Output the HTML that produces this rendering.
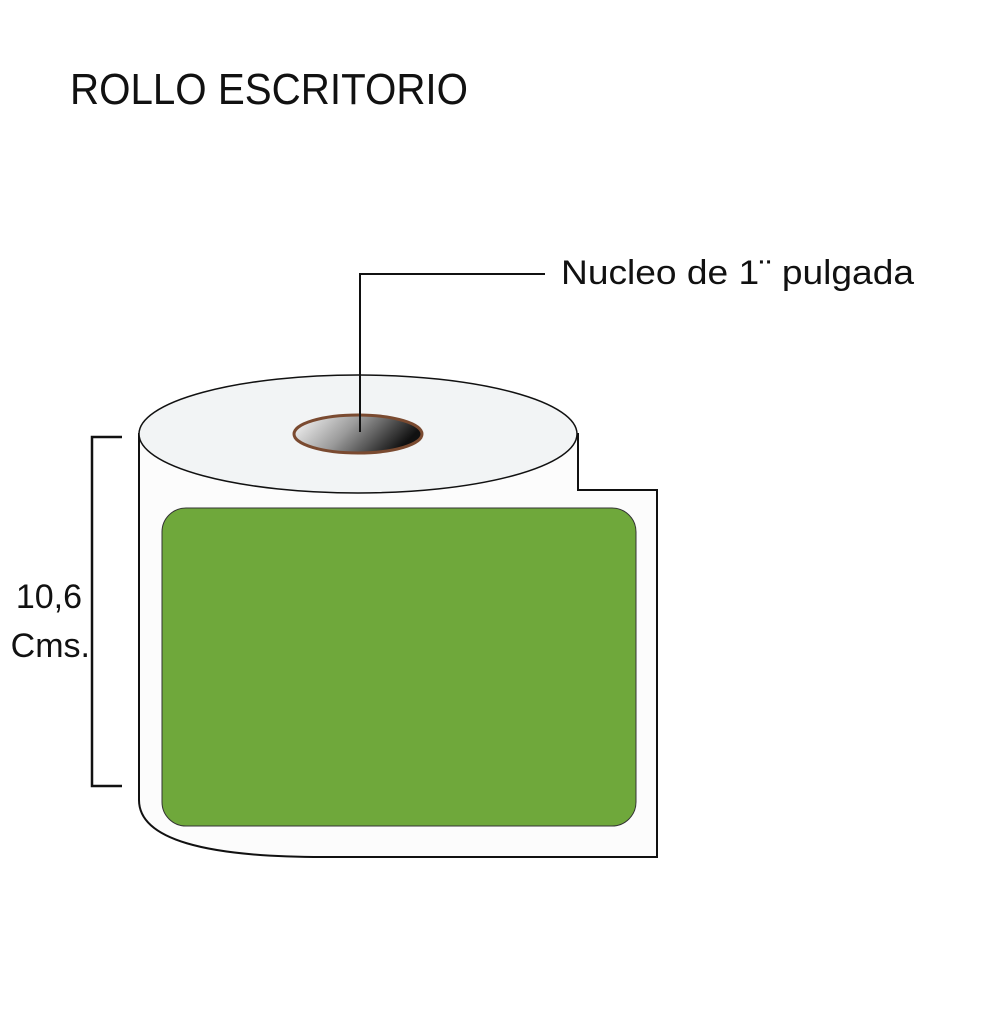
<!DOCTYPE html>
<html><head><style>body{margin:0;background:#fff}</style></head><body>
<svg width="1004" height="1004" viewBox="0 0 1004 1004" xmlns="http://www.w3.org/2000/svg" font-family="Liberation Sans, sans-serif">
<defs><linearGradient id="g" x1="0" y1="0" x2="1" y2="0.3"><stop offset="0" stop-color="#fff"/><stop offset="0.5" stop-color="#999"/><stop offset="1" stop-color="#111"/></linearGradient></defs>
<text x="70" y="104" font-size="44" fill="#111" textLength="398" lengthAdjust="spacingAndGlyphs">ROLLO ESCRITORIO</text>
<path d="M139,434 L139,800 Q139,858 330,857 L657,857 L657,490 L578,490 L578,434 Z" fill="#fcfcfc" stroke="#111" stroke-width="2"/>
<ellipse cx="358" cy="434" rx="219" ry="59" fill="#f2f4f5" stroke="#111" stroke-width="1.5"/>
<ellipse cx="358" cy="434" rx="64" ry="19" fill="url(#g)" stroke="#7a4a30" stroke-width="3"/>
<rect x="162" y="508" width="474" height="318" rx="24" fill="#6fa83b" stroke="#333" stroke-width="1"/>
<polyline points="545,274 360,274 360,432" fill="none" stroke="#111" stroke-width="2"/>
<text x="561" y="284" font-size="34" fill="#111" textLength="353" lengthAdjust="spacingAndGlyphs">Nucleo de 1¨ pulgada</text>
<polyline points="122,437 92,437 92,786 122,786" fill="none" stroke="#111" stroke-width="2.5"/>
<text x="82" y="608" font-size="34" fill="#111" text-anchor="end">10,6</text>
<text x="90" y="657" font-size="34" fill="#111" text-anchor="end">Cms.</text>
</svg>
</body></html>
